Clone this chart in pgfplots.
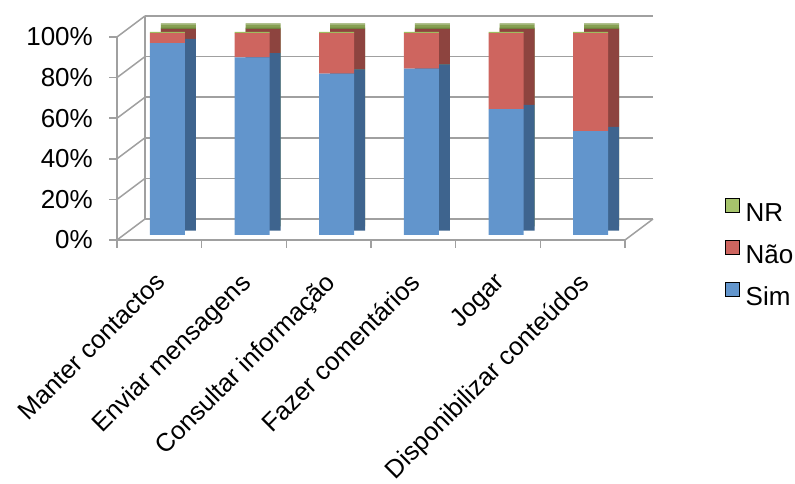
\documentclass[border=0pt]{standalone}
\usepackage{pgfplots}
\pgfplotsset{compat=1.18}
\usepackage{pgfplotstable}
\usepackage{fontspec}
\setmainfont{Liberation Sans}
\definecolor{gridc}{RGB}{160,160,160}
\definecolor{simF}{RGB}{98,149,204}
\definecolor{simS}{RGB}{62,100,142}
\definecolor{naoF}{RGB}{206,101,95}
\definecolor{naoS}{RGB}{141,68,63}
\definecolor{nrF}{RGB}{158,190,94}
\definecolor{nrS}{RGB}{112,138,62}
\definecolor{nrT}{RGB}{135,160,83}
\definecolor{nrL}{RGB}{166,196,108}

\pgfplotstableread{
x sim nao nr
0 94.5 4.9 0.6
1 87.5 11.9 0.6
2 79.5 19.9 0.6
3 82.0 17.4 0.6
4 62.0 37.4 0.6
5 51.2 48.2 0.6
}\datatable

\pgfplotsset{
  base/.style={scale only axis, width=508pt, height=203pt,
    xmin=-0.5, xmax=5.5, ymin=0, ymax=100, anchor=south west},
  bars/.style={base, hide axis, ybar stacked, bar width=35pt},
}

\begin{document}
\begin{tikzpicture}
\useasboundingbox (0,0) rectangle (795pt,484pt);

% back wall
\begin{axis}[base, at={(145pt,265pt)}, clip=false,
  axis x line=none, axis y line*=left,
  axis line style={gridc, line width=1.5pt},
  xtick=\empty, ytick={0,20,...,100}, yticklabels={},
  major tick length=0pt, ymajorgrids,
  grid style={gridc, line width=1.5pt}]
\addplot[draw=none] coordinates {(0,0)};
\pgfplotsinvokeforeach{0,20,40,60,80,100}{
  \draw[gridc, line width=1.5pt] (axis cs:-0.5,#1) -- ++(-28pt,-21pt);
}
\draw[gridc, line width=1.5pt] (axis cs:5.5,0) -- ++(-28pt,-21pt);
\end{axis}

% top faces
\begin{axis}[bars, at={(136pt,257.5pt)}]
\addplot[fill=nrT, draw=none] table[x=x,y=sim]{\datatable};
\addplot[fill=nrT, draw=none] table[x=x,y=nao]{\datatable};
\addplot[fill=nrT, draw=none] table[x=x,y=nr]{\datatable};
\end{axis}

% side faces
\begin{axis}[bars, at={(136pt,253.25pt)}]
\addplot[fill=simS, draw=none] table[x=x,y=sim]{\datatable};
\addplot[fill=naoS, draw=none] table[x=x,y=nao]{\datatable};
\addplot[fill=nrS, draw=none] table[x=x,y=nr]{\datatable};
\end{axis}

% front faces
\begin{axis}[bars, at={(125pt,249pt)}]
\addplot[fill=simF, draw=none] table[x=x,y=sim]{\datatable};
\addplot[fill=naoF, draw=none] table[x=x,y=nao]{\datatable};
\addplot[fill=nrF, draw=none] table[x=x,y=nr]{\datatable};
\end{axis}

% front frame, ticks, labels, legend
\begin{axis}[base, at={(117pt,244pt)},
  axis x line*=bottom, axis y line*=left,
  axis line style={gridc, line width=1.5pt},
  xtick={0,...,5},
  xticklabels={Manter contactos, Enviar mensagens, Consultar informação,
    Fazer comentários, Jogar, Disponibilizar conteúdos},
  minor xtick={-0.5,0.5,...,5.5},
  ytick={0,20,...,100},
  yticklabel={\pgfmathprintnumber{\tick}\%},
  tick align=outside, major tick length=8pt, minor tick length=8pt,
  major x tick style={draw=none},
  minor x tick style={gridc, line width=1.5pt},
  ytick style={gridc, line width=1.5pt},
  tick label style={font=\fontsize{26}{30}\selectfont},
  /pgf/number format/assume math mode=true,
  xticklabel style={xshift=-5pt, yshift=-23pt, rotate=45, anchor=north east,
    inner sep=0pt, font=\fontsize{25.5}{30}\selectfont},
  yticklabel style={inner sep=0pt, xshift=-16pt},
  legend image code/.code={\fill[#1] (0pt,1pt) rectangle (14pt,15pt);},
  reverse legend,
  legend cell align=left,
  legend style={at={(1.197,0.207)}, anchor=north west, draw=none, fill=none,
    inner sep=0pt, row sep=18pt,
    font=\fontsize{26}{30}\selectfont,
    nodes={inner sep=0pt, text height=17pt, text depth=0pt},
    /tikz/every odd column/.append style={column sep=6pt}},
]
\addlegendimage{fill=simF}
\addlegendentry{Sim}
\addlegendimage{fill=naoF}
\addlegendentry{Não}
\addlegendimage{fill=nrL}
\addlegendentry{NR}
\end{axis}
\end{tikzpicture}
\end{document}
